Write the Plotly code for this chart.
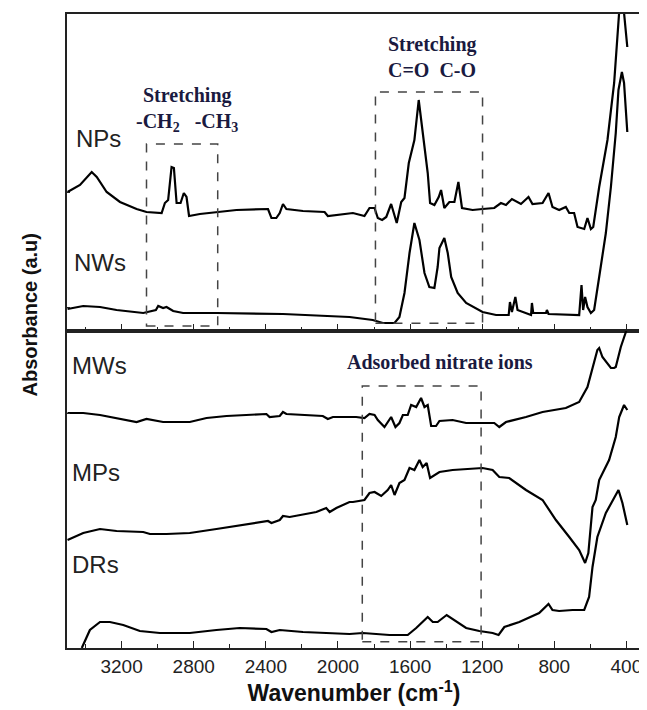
import plotly.graph_objects as go
from plotly.subplots import make_subplots

# ---- data (wavenumber in cm^-1, absorbance in arbitrary offset units) ----
nps_wn = [3500, 3431, 3366, 3338, 3283, 3209, 3117, 3062, 2978, 2960, 2942, 2923, 2910, 2895, 2873,
          2855, 2840, 2826, 2766, 2674, 2563, 2388, 2369, 2342, 2323, 2305, 2286, 2194, 2074, 2056,
          2009, 1936, 1917, 1853, 1825, 1797, 1779, 1755, 1732, 1705, 1686, 1674, 1649, 1631, 1607,
          1576, 1552, 1530, 1502, 1489, 1465, 1441, 1428, 1410, 1382, 1354, 1332, 1312, 1253, 1198,
          1133, 1096, 1068, 1035, 985, 943, 921, 865, 832, 810, 773, 736, 717, 690, 671, 634, 616,
          597, 584, 551, 505, 468, 450, 437, 424, 413, 400, 395]
nps_abs = [1.39, 1.46, 1.59, 1.54, 1.39, 1.29, 1.22, 1.19, 1.18, 1.28, 1.31, 1.64, 1.63, 1.28, 1.28,
           1.38, 1.34, 1.15, 1.17, 1.19, 1.21, 1.22, 1.13, 1.13, 1.18, 1.27, 1.22, 1.20, 1.19, 1.15,
           1.16, 1.18, 1.18, 1.15, 1.23, 1.23, 1.13, 1.11, 1.14, 1.27, 1.14, 1.08, 1.29, 1.33, 1.68,
           1.91, 2.31, 1.98, 1.58, 1.28, 1.26, 1.34, 1.41, 1.23, 1.29, 1.29, 1.49, 1.23, 1.21, 1.22,
           1.23, 1.28, 1.26, 1.32, 1.27, 1.34, 1.27, 1.28, 1.38, 1.24, 1.21, 1.24, 1.18, 1.18, 1.04,
           1.02, 1.13, 1.02, 1.04, 1.44, 1.91, 2.48, 2.88, 3.18, 3.60, 3.18, 2.95, 2.84]

nws_wn = [3500, 3413, 3320, 3228, 3080, 3010, 2997, 2970, 2951, 2914, 2859, 2674, 2305, 1936, 1807,
          1751, 1686, 1659, 1631, 1603, 1576, 1548, 1520, 1493, 1465, 1447, 1437, 1410, 1391, 1372,
          1336, 1289, 1198, 1123, 1053, 1046, 1035, 1016, 1004, 929, 924, 917, 846, 841, 832, 662,
          649, 640, 629, 616, 597, 579, 551, 514, 486, 459, 444, 425, 413, 400, 395]
nws_abs = [0.22, 0.25, 0.24, 0.21, 0.18, 0.21, 0.25, 0.23, 0.24, 0.20, 0.18, 0.18, 0.17, 0.14, 0.11,
           0.08, 0.08, 0.14, 0.38, 0.78, 1.08, 0.91, 0.58, 0.44, 0.43, 0.64, 0.83, 0.93, 0.78, 0.54,
           0.38, 0.28, 0.19, 0.16, 0.16, 0.29, 0.19, 0.34, 0.21, 0.16, 0.28, 0.18, 0.18, 0.21, 0.17, 0.16,
           0.46, 0.21, 0.34, 0.24, 0.18, 0.21, 0.54, 0.98, 1.44, 1.98, 2.41, 2.59, 2.48, 2.15, 1.99]

mws_wn = [3500, 3413, 3320, 3228, 3117, 3062, 2970, 2822, 2729, 2618, 2397, 2379, 2323, 2305, 2286,
          2084, 2056, 2028, 1936, 1899, 1853, 1825, 1797, 1779, 1742, 1705, 1681, 1659, 1640, 1613,
          1594, 1566, 1539, 1520, 1502, 1483, 1456, 1437, 1364, 1289, 1198, 1133, 1105, 1068, 957,
          865, 736, 662, 616, 588, 561, 551, 533, 486, 468, 459, 431, 403, 391]
mws_abs = [2.35, 2.35, 2.33, 2.30, 2.26, 2.29, 2.26, 2.26, 2.30, 2.32, 2.34, 2.31, 2.32, 2.36, 2.34,
           2.32, 2.29, 2.31, 2.31, 2.31, 2.30, 2.34, 2.33, 2.28, 2.21, 2.31, 2.21, 2.25, 2.33, 2.33,
           2.43, 2.41, 2.50, 2.41, 2.43, 2.22, 2.22, 2.27, 2.28, 2.25, 2.25, 2.25, 2.21, 2.26, 2.31,
           2.36, 2.40, 2.46, 2.61, 2.81, 2.98, 3.00, 2.91, 2.80, 2.80, 2.81, 3.01, 3.16, 3.25]

mps_wn = [3500, 3413, 3320, 3228, 3080, 3043, 2951, 2822, 2674, 2527, 2388, 2369, 2323, 2305, 2268,
          2120, 2065, 2046, 2009, 1936, 1917, 1853, 1825, 1797, 1760, 1724, 1705, 1686, 1659, 1631,
          1603, 1576, 1548, 1530, 1508, 1489, 1465, 1437, 1364, 1289, 1198, 1142, 1105, 1050, 957,
          865, 791, 717, 662, 629, 611, 588, 570, 551, 496, 459, 440, 413, 395]
mps_abs = [1.08, 1.15, 1.19, 1.17, 1.16, 1.14, 1.14, 1.15, 1.19, 1.23, 1.27, 1.25, 1.28, 1.32, 1.31,
           1.36, 1.40, 1.36, 1.40, 1.46, 1.46, 1.48, 1.55, 1.56, 1.52, 1.58, 1.63, 1.53, 1.65, 1.68,
           1.80, 1.78, 1.88, 1.81, 1.85, 1.70, 1.73, 1.76, 1.78, 1.79, 1.80, 1.78, 1.71, 1.70, 1.58,
           1.48, 1.28, 1.11, 0.98, 0.85, 0.95, 1.41, 1.48, 1.68, 1.88, 2.11, 2.31, 2.43, 2.38]

drs_wn = [3421, 3376, 3320, 3265, 3191, 3099, 2988, 2822, 2674, 2545, 2397, 2369, 2323, 2194, 1936,
          1862, 1714, 1613, 1566, 1502, 1474, 1447, 1397, 1354, 1289, 1216, 1142, 1109, 1077, 994,
          884, 832, 810, 773, 699, 634, 616, 607, 588, 561, 514, 468, 444, 422, 395]
drs_abs = [0.00, 0.18, 0.26, 0.26, 0.23, 0.17, 0.15, 0.15, 0.18, 0.20, 0.19, 0.16, 0.18, 0.16, 0.14,
           0.15, 0.13, 0.13, 0.20, 0.31, 0.26, 0.26, 0.33, 0.28, 0.20, 0.17, 0.15, 0.13, 0.21, 0.26,
           0.35, 0.44, 0.38, 0.37, 0.38, 0.38, 0.48, 0.51, 0.81, 1.11, 1.35, 1.51, 1.58, 1.45, 1.23]

top_labels = ["NPs", "NWs"]
bottom_labels = ["MWs", "MPs", "DRs"]
x_ticks = [3200, 2800, 2400, 2000, 1600, 1200, 800, 400]
x_minor = [3400, 3000, 2600, 2200, 1800, 1400, 1000, 600]

fig = make_subplots(rows=2, cols=1, shared_xaxes=True, vertical_spacing=0)

line = dict(color="black", width=2.2)
fig.add_trace(go.Scatter(x=nps_wn, y=nps_abs, mode="lines", line=line, name="NPs"), row=1, col=1)
fig.add_trace(go.Scatter(x=nws_wn, y=nws_abs, mode="lines", line=line, name="NWs"), row=1, col=1)
fig.add_trace(go.Scatter(x=mws_wn, y=mws_abs, mode="lines", line=line, name="MWs"), row=2, col=1)
fig.add_trace(go.Scatter(x=mps_wn, y=mps_abs, mode="lines", line=line, name="MPs"), row=2, col=1)
fig.add_trace(go.Scatter(x=drs_wn, y=drs_abs, mode="lines", line=line, name="DRs"), row=2, col=1)

xcommon = dict(range=[3503, 319], showline=True, linecolor="#222", linewidth=1.5, mirror=True,
               ticks="inside", ticklen=7, tickwidth=1.3, tickcolor="#222",
               tickvals=x_ticks, showgrid=False, zeroline=False,
               minor=dict(ticks="inside", ticklen=4, tickwidth=1.2, tickcolor="#222",
                          tickvals=x_minor))
fig.update_xaxes(**xcommon)
fig.update_xaxes(showticklabels=False, row=1, col=1)
fig.update_xaxes(showticklabels=True, tickfont=dict(family="Liberation Sans", size=19, color="#222"),
                 title=dict(text="<b>Wavenumber (cm<sup>-1</sup>)</b>",
                            font=dict(family="Liberation Sans", size=23, color="#111"), standoff=6),
                 row=2, col=1)
ycommon = dict(range=[0, 3.17], showline=True, linecolor="#222", linewidth=1.5, mirror=True,
               showticklabels=False, showgrid=False, zeroline=False, ticks="inside", ticklen=3,
               tickcolor="#222")
fig.update_yaxes(**ycommon)
fig.update_yaxes(tickvals=[0.24, 1.39], row=1, col=1)
fig.update_yaxes(tickvals=[2.35], row=2, col=1)

# series labels
lab_font = dict(family="Liberation Sans", size=24, color="#222")
for txt, wn, a, ax in [("NPs", 3462, 1.93, 1), ("NWs", 3474, 0.69, 1),
                       ("MWs", 3485, 2.83, 2), ("MPs", 3485, 1.76, 2), ("DRs", 3485, 0.84, 2)]:
    fig.add_annotation(x=wn, y=a, xref="x" if ax == 1 else "x2", yref="y" if ax == 1 else "y2",
                       text=txt, showarrow=False, xanchor="left", font=lab_font)

# band annotations
ann_font = dict(family="Liberation Serif", size=20, color="#1a1a40")
for txt, wn, a, ax in [("<b>Stretching</b>", 2833, 2.36, 1),
                       ("<b>-CH<sub>2</sub>   -CH<sub>3</sub></b>", 2838, 2.09, 1),
                       ("<b>Stretching</b>", 1476, 2.87, 1),
                       ("<b>C=O  C-O</b>", 1476, 2.61, 1),
                       ("<b>Adsorbed nitrate ions</b>", 1432, 2.86, 2)]:
    fig.add_annotation(x=wn, y=a, xref="x" if ax == 1 else "x2", yref="y" if ax == 1 else "y2",
                       text=txt, showarrow=False, font=ann_font)

# dashed boxes
box_line = dict(color="#444", width=1.5, dash="dash")
fig.add_shape(type="rect", x0=3062, x1=2667, y0=0.05, y1=1.87, xref="x", yref="y", line=box_line)
fig.add_shape(type="rect", x0=1792, x1=1198, y0=0.077, y1=2.39, xref="x", yref="y", line=box_line)
fig.add_shape(type="rect", x0=1865, x1=1206, y0=0.063, y1=2.62, xref="x2", yref="y2", line=box_line)

# y axis title
fig.add_annotation(x=-0.064, y=0.525, xref="paper", yref="paper", text="<b>Absorbance (a.u)</b>",
                   textangle=-90, showarrow=False, xanchor="center", yanchor="middle",
                   font=dict(family="Liberation Sans", size=20, color="#111"))

# the page body adds an 8px margin, so the figure is sized to fit the 647x710 window
fig.update_layout(width=639, height=702, margin=dict(l=59, r=4, t=6, b=62),
                  plot_bgcolor="white", paper_bgcolor="white", showlegend=False)

fig.write_html("out.html")
